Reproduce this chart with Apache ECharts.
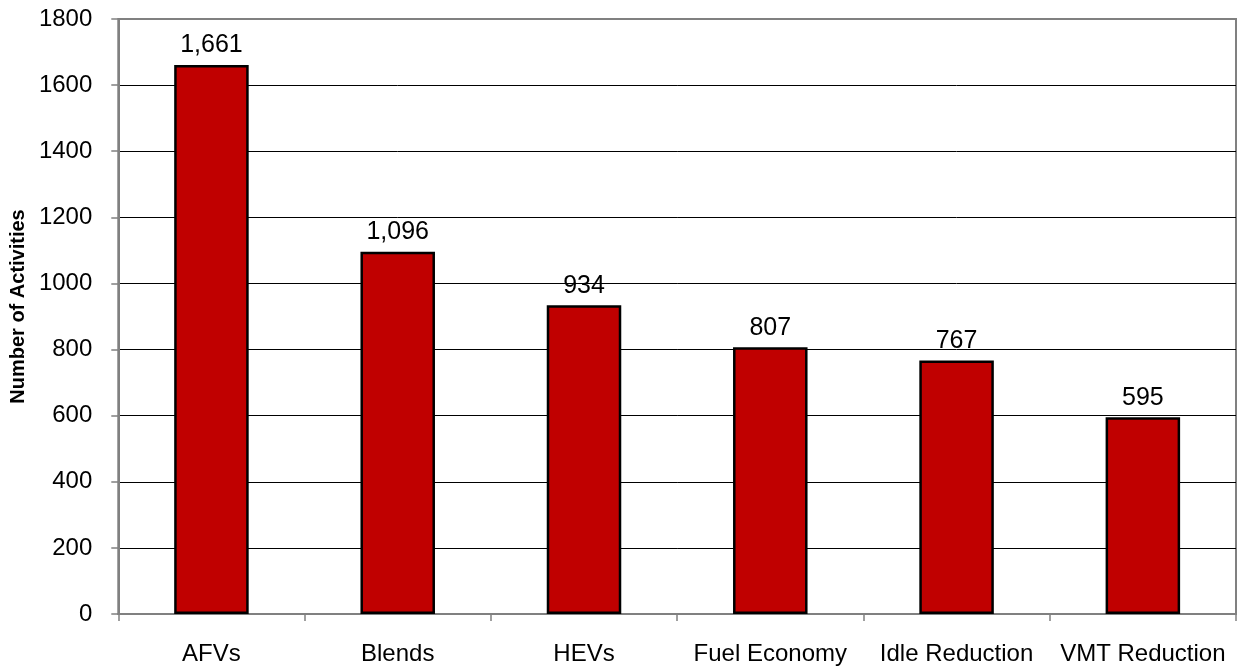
<!DOCTYPE html>
<html>
<head>
<meta charset="utf-8">
<script src="https://cdn.jsdelivr.net/npm/echarts@6/dist/echarts.min.js"></script>
<style>html,body{margin:0;padding:0;background:#fff}#c{width:1238px;height:666px}</style>
</head>
<body>
<div id="c"></div>
<script>
var categories = ['AFVs', 'Blends', 'HEVs', 'Fuel Economy', 'Idle Reduction', 'VMT Reduction'];
var activities = [1661, 1096, 934, 807, 767, 595];
var yTicks = [0, 200, 400, 600, 800, 1000, 1200, 1400, 1600, 1800];

var FONT = '"Liberation Sans", Arial, sans-serif';
var chart = echarts.init(document.getElementById('c'));
chart.setOption({
  animation: false,
  backgroundColor: '#fff',
  grid: { left: 116, right: 2, top: 19, bottom: 51, show: true, borderColor: '#808080', borderWidth: 2, containLabel: false },
  xAxis: {
    type: 'category',
    data: categories,
    axisLine: { lineStyle: { color: '#808080', width: 2 } },
    axisTick: { show: true, length: 7, lineStyle: { color: '#808080', width: 1.5 } },
    axisLabel: { color: '#000', fontFamily: FONT, fontSize: 24, margin: 28, interval: 0 }
  },
  yAxis: {
    type: 'value',
    min: yTicks[0],
    max: yTicks[yTicks.length - 1],
    interval: 200,
    name: 'Number of Activities',
    nameLocation: 'middle',
    nameGap: 88,
    nameTextStyle: { color: '#000', fontFamily: FONT, fontSize: 20, fontWeight: 'bold', padding: [0, 0, 0, 20] },
    axisLine: { show: true, lineStyle: { color: '#808080', width: 2 } },
    axisTick: { show: true, length: 7, lineStyle: { color: '#808080', width: 1.5 } },
    axisLabel: { color: '#000', fontFamily: FONT, fontSize: 24, margin: 26, formatter: function (v) { return String(v); } },
    splitLine: { show: true, showMinLine: false, showMaxLine: false, lineStyle: { color: '#000', width: 1 } }
  },
  series: [{
    type: 'bar',
    data: activities,
    barWidth: '40%',
    itemStyle: { color: '#C00000', borderColor: '#000', borderWidth: 2.5 },
    label: {
      show: true,
      position: 'top',
      distance: 7,
      color: '#000',
      fontFamily: FONT,
      fontSize: 25,
      formatter: function (p) { return p.value.toLocaleString('en-US'); }
    }
  }]
});
</script>
</body>
</html>
